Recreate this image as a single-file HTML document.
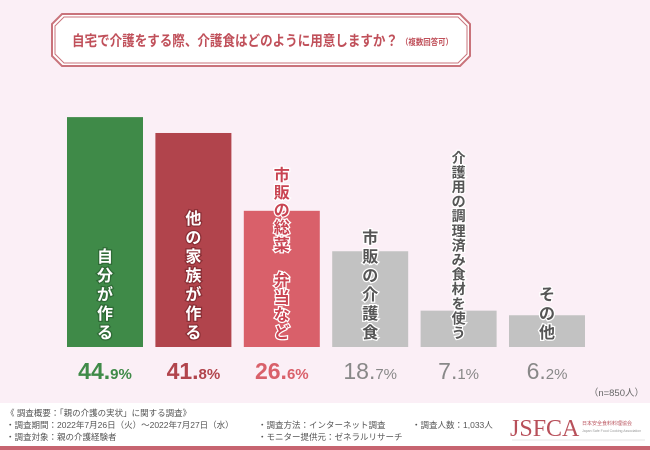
<!DOCTYPE html>
<html><head><meta charset="utf-8"><style>
html,body{margin:0;padding:0}
body{width:650px;height:450px;overflow:hidden;background:#fff;font-family:"Liberation Sans","Noto Sans CJK JP",sans-serif}
svg{display:block}
</style></head><body>
<svg width="650" height="450" viewBox="0 0 650 450" font-family="Liberation Sans, Noto Sans CJK JP, sans-serif">
<rect x="0" y="0" width="650" height="403" fill="#fbeff6"/>
<rect x="0" y="403" width="650" height="44" fill="#ffffff"/>
<rect x="0" y="446" width="650" height="4" fill="#c76470"/>
<g>
<polygon points="62,14 460,14 470,24 470,56 460,66 62,66 52,56 52,24" fill="#fff" stroke="#c9737b" stroke-width="2"/>
<polygon points="64,17 458,17 467,26 467,54 458,63 64,63 55,54 55,26" fill="none" stroke="#c9737b" stroke-width="1"/>
<text x="72" y="46" font-size="14.5" font-weight="bold" fill="#c0505a" textLength="326" lengthAdjust="spacingAndGlyphs">自宅で介護をする際、介護食はどのように用意しますか？</text>
<text x="401" y="45" font-size="8.5" font-weight="bold" fill="#c0505a" textLength="52" lengthAdjust="spacingAndGlyphs">（複数回答可）</text>
</g>
<g id="bars"></g>
<text x="644" y="396" font-size="9.5" fill="#666" text-anchor="end">（n=850人）</text>
<g font-size="8.5" fill="#555">
<text x="6" y="416">《 調査概要：「親の介護の実状」に関する調査》</text>
<text x="6" y="428">・調査期間：2022年7月26日（火）～2022年7月27日（水）</text>
<text x="6" y="440">・調査対象：親の介護経験者</text>
<text x="258" y="428">・調査方法：インターネット調査</text>
<text x="258" y="440">・モニター提供元：ゼネラルリサーチ</text>
<text x="412" y="428">・調査人数：1,033人</text>
</g>
<g>
<text x="510" y="436" font-family="Liberation Serif, serif" font-size="24" fill="#b8505a">JSFCA</text>
<text x="582" y="425" font-size="5" fill="#b8505a">日本安全食料料理協会</text>
<text x="582" y="432" font-size="3.5" fill="#999">Japan Safe Food Cooking Association</text>
<line x1="512" y1="440" x2="645" y2="440" stroke="#ddd" stroke-width="0.8"/>
</g>
</svg>
<script>
const categories=["自分が作る","他の家族が作る","市販の総菜　弁当など","市販の介護食","介護用の調理済み食材を使う","その他"];
const values=[44.9,41.8,26.6,18.7,7.1,6.2];
const barColors=["#3f8a48","#b1444c","#d9606a","#c2c2c2","#c2c2c2","#c2c2c2"];
const labelColors=["#fff","#fff","#c94452","#555","#555","#555"];
const labelStrokes=["#2f6a36","#8a2f36","#fff","#fff","#fff","#fff"];
const valueColors=["#3f8a48","#b1444c","#d9606a","#888","#888","#888"];
const ns="http://www.w3.org/2000/svg";
const g=document.getElementById("bars");
const baseY=347, pxPer=5.12, x0=67, step=88.4, bw=76;
function yScale(v){return baseY-v*pxPer;}
function xScale(i){return x0+i*step;}
const labelBottom=338;
values.forEach((v,i)=>{
  const x=xScale(i), y=yScale(v);
  const r=document.createElementNS(ns,"rect");
  r.setAttribute("x",x);r.setAttribute("y",y);r.setAttribute("width",bw);r.setAttribute("height",baseY-y);
  r.setAttribute("fill",barColors[i]);
  
  
  g.appendChild(r);
  const chars=[...categories[i]];
  const n=chars.length;
  const cs=n>10?14.6:(n>7?17.5:19);
  const fs=n>10?14:16;
  const lg=document.createElementNS(ns,"g");
  
  
  chars.forEach((c,k)=>{
    const t=document.createElementNS(ns,"text");
    t.setAttribute("x",x+bw/2);
    t.setAttribute("y",labelBottom-(n-1-k)*cs);
    t.setAttribute("text-anchor","middle");
    t.setAttribute("font-size",fs);
    t.setAttribute("font-weight","bold");
    t.setAttribute("fill",labelColors[i]);
    t.setAttribute("stroke",labelStrokes[i]);
    t.setAttribute("stroke-width","2.5");
    t.setAttribute("paint-order","stroke");
    t.textContent=c;
    lg.appendChild(t);
  });
  g.appendChild(lg);
  const vt=document.createElementNS(ns,"text");
  vt.setAttribute("x",x+bw/2);vt.setAttribute("y",379);
  vt.setAttribute("text-anchor","middle");
  vt.setAttribute("fill",valueColors[i]);
  vt.setAttribute("font-weight",i<3?"bold":"normal");
  
  
  const s=v.toFixed(1);
  const a=document.createElementNS(ns,"tspan");a.setAttribute("font-size","23");a.textContent=s.slice(0,-1);
  const b=document.createElementNS(ns,"tspan");b.setAttribute("font-size","15");b.textContent=s.slice(-1)+"%";
  vt.appendChild(a);vt.appendChild(b);
  g.appendChild(vt);
});
</script>
</body></html>
